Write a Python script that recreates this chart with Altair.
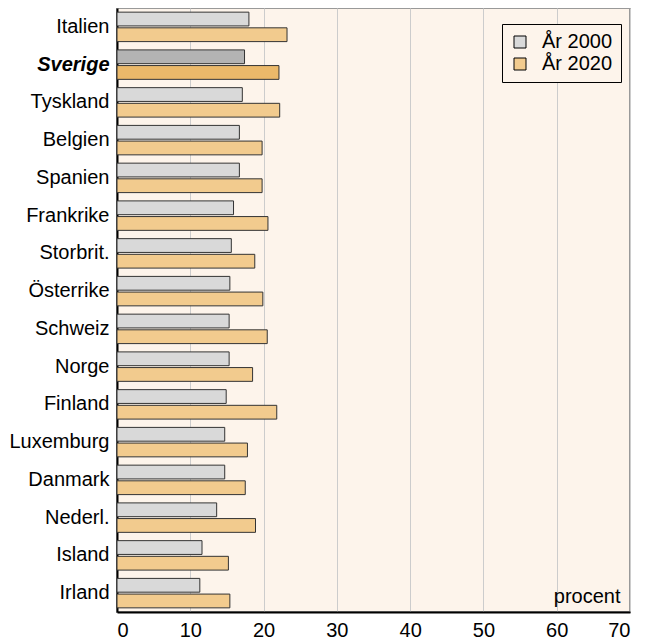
import altair as alt
import pandas as pd

countries = ["Italien", "Sverige", "Tyskland", "Belgien", "Spanien", "Frankrike",
             "Storbrit.", "Österrike", "Schweiz", "Norge", "Finland", "Luxemburg",
             "Danmark", "Nederl.", "Island", "Irland"]
y2000 = [18.0, 17.4, 17.1, 16.7, 16.7, 15.9, 15.6, 15.4, 15.3, 15.3, 14.9, 14.7, 14.7, 13.6, 11.6, 11.3]
y2020 = [23.2, 22.1, 22.2, 19.8, 19.8, 20.6, 18.8, 19.9, 20.5, 18.5, 21.8, 17.8, 17.5, 18.9, 15.2, 15.4]
years = ["År 2000", "År 2020"]

rows = []
for c, a, b in zip(countries, y2000, y2020):
    for yr, v in zip(years, [a, b]):
        key = yr if c != "Sverige" else "S " + yr
        rows.append({"land": c, "år": yr, "värde": v, "färg": key})
df = pd.DataFrame(rows)

W, H = 513, 604
FONT = "Liberation Sans"
FS = 20

bars = alt.Chart(df).mark_bar(stroke="#333333", strokeWidth=1).encode(
    y=alt.Y("land:N", sort=countries,
            scale=alt.Scale(paddingInner=0.22, paddingOuter=0.11),
            axis=alt.Axis(title=None, labelFontSize=FS, labelColor="#000000",
                          labelFont=FONT, labelPadding=8, ticks=False,
                          domainColor="#000000", domainWidth=2,
                          labelFontWeight=alt.condition("datum.value == 'Sverige'", alt.value("bold"), alt.value("normal")),
                          labelFontStyle=alt.condition("datum.value == 'Sverige'", alt.value("italic"), alt.value("normal")))),
    yOffset=alt.YOffset("år:N", sort=years, scale=alt.Scale(paddingInner=0.12)),
    x=alt.X("värde:Q", scale=alt.Scale(domain=[0, 70], nice=False),
            axis=alt.Axis(title="procent", values=[0, 10, 20, 30, 40, 50, 60, 70],
                          labelFontSize=FS, labelColor="#000000", labelFont=FONT,
                          ticks=False, labelPadding=8,
                          domainColor="#000000", domainWidth=2,
                          gridColor="#cccccc", gridWidth=1,
                          titleFont=FONT, titleFontSize=FS, titleFontWeight="normal",
                          titleColor="#000000", titleAlign="right", titleAnchor="end",
                          titleX=W - 10, titleY=-6, titleBaseline="bottom")),
    fill=alt.Fill("färg:N",
                  scale=alt.Scale(domain=["År 2000", "År 2020", "S År 2000", "S År 2020"],
                                  range=["#d9d9d9", "#f2cb8e", "#b3b3b3", "#ebb96a"]),
                  legend=alt.Legend(title=None, values=["År 2000", "År 2020"],
                                    orient="none", legendX=385, legendY=16,
                                    direction="vertical",
                                    labelFontSize=FS, labelFont=FONT, labelColor="#000000",
                                    symbolType="square", symbolSize=144,
                                    symbolStrokeColor="#000000", symbolStrokeWidth=1,
                                    strokeColor="#000000", fillColor="#fdf4eb",
                                    padding=8, rowPadding=2, labelOffset=12)),
).properties(width=W, height=H)

chart = bars.configure(
    padding={"left": 0, "top": 0, "right": 5, "bottom": 0}, font=FONT
).configure_view(fill="#fdf4eb", stroke="#999999", strokeWidth=2)

chart.save("out.html", embed_options={"renderer": "svg", "actions": False})
